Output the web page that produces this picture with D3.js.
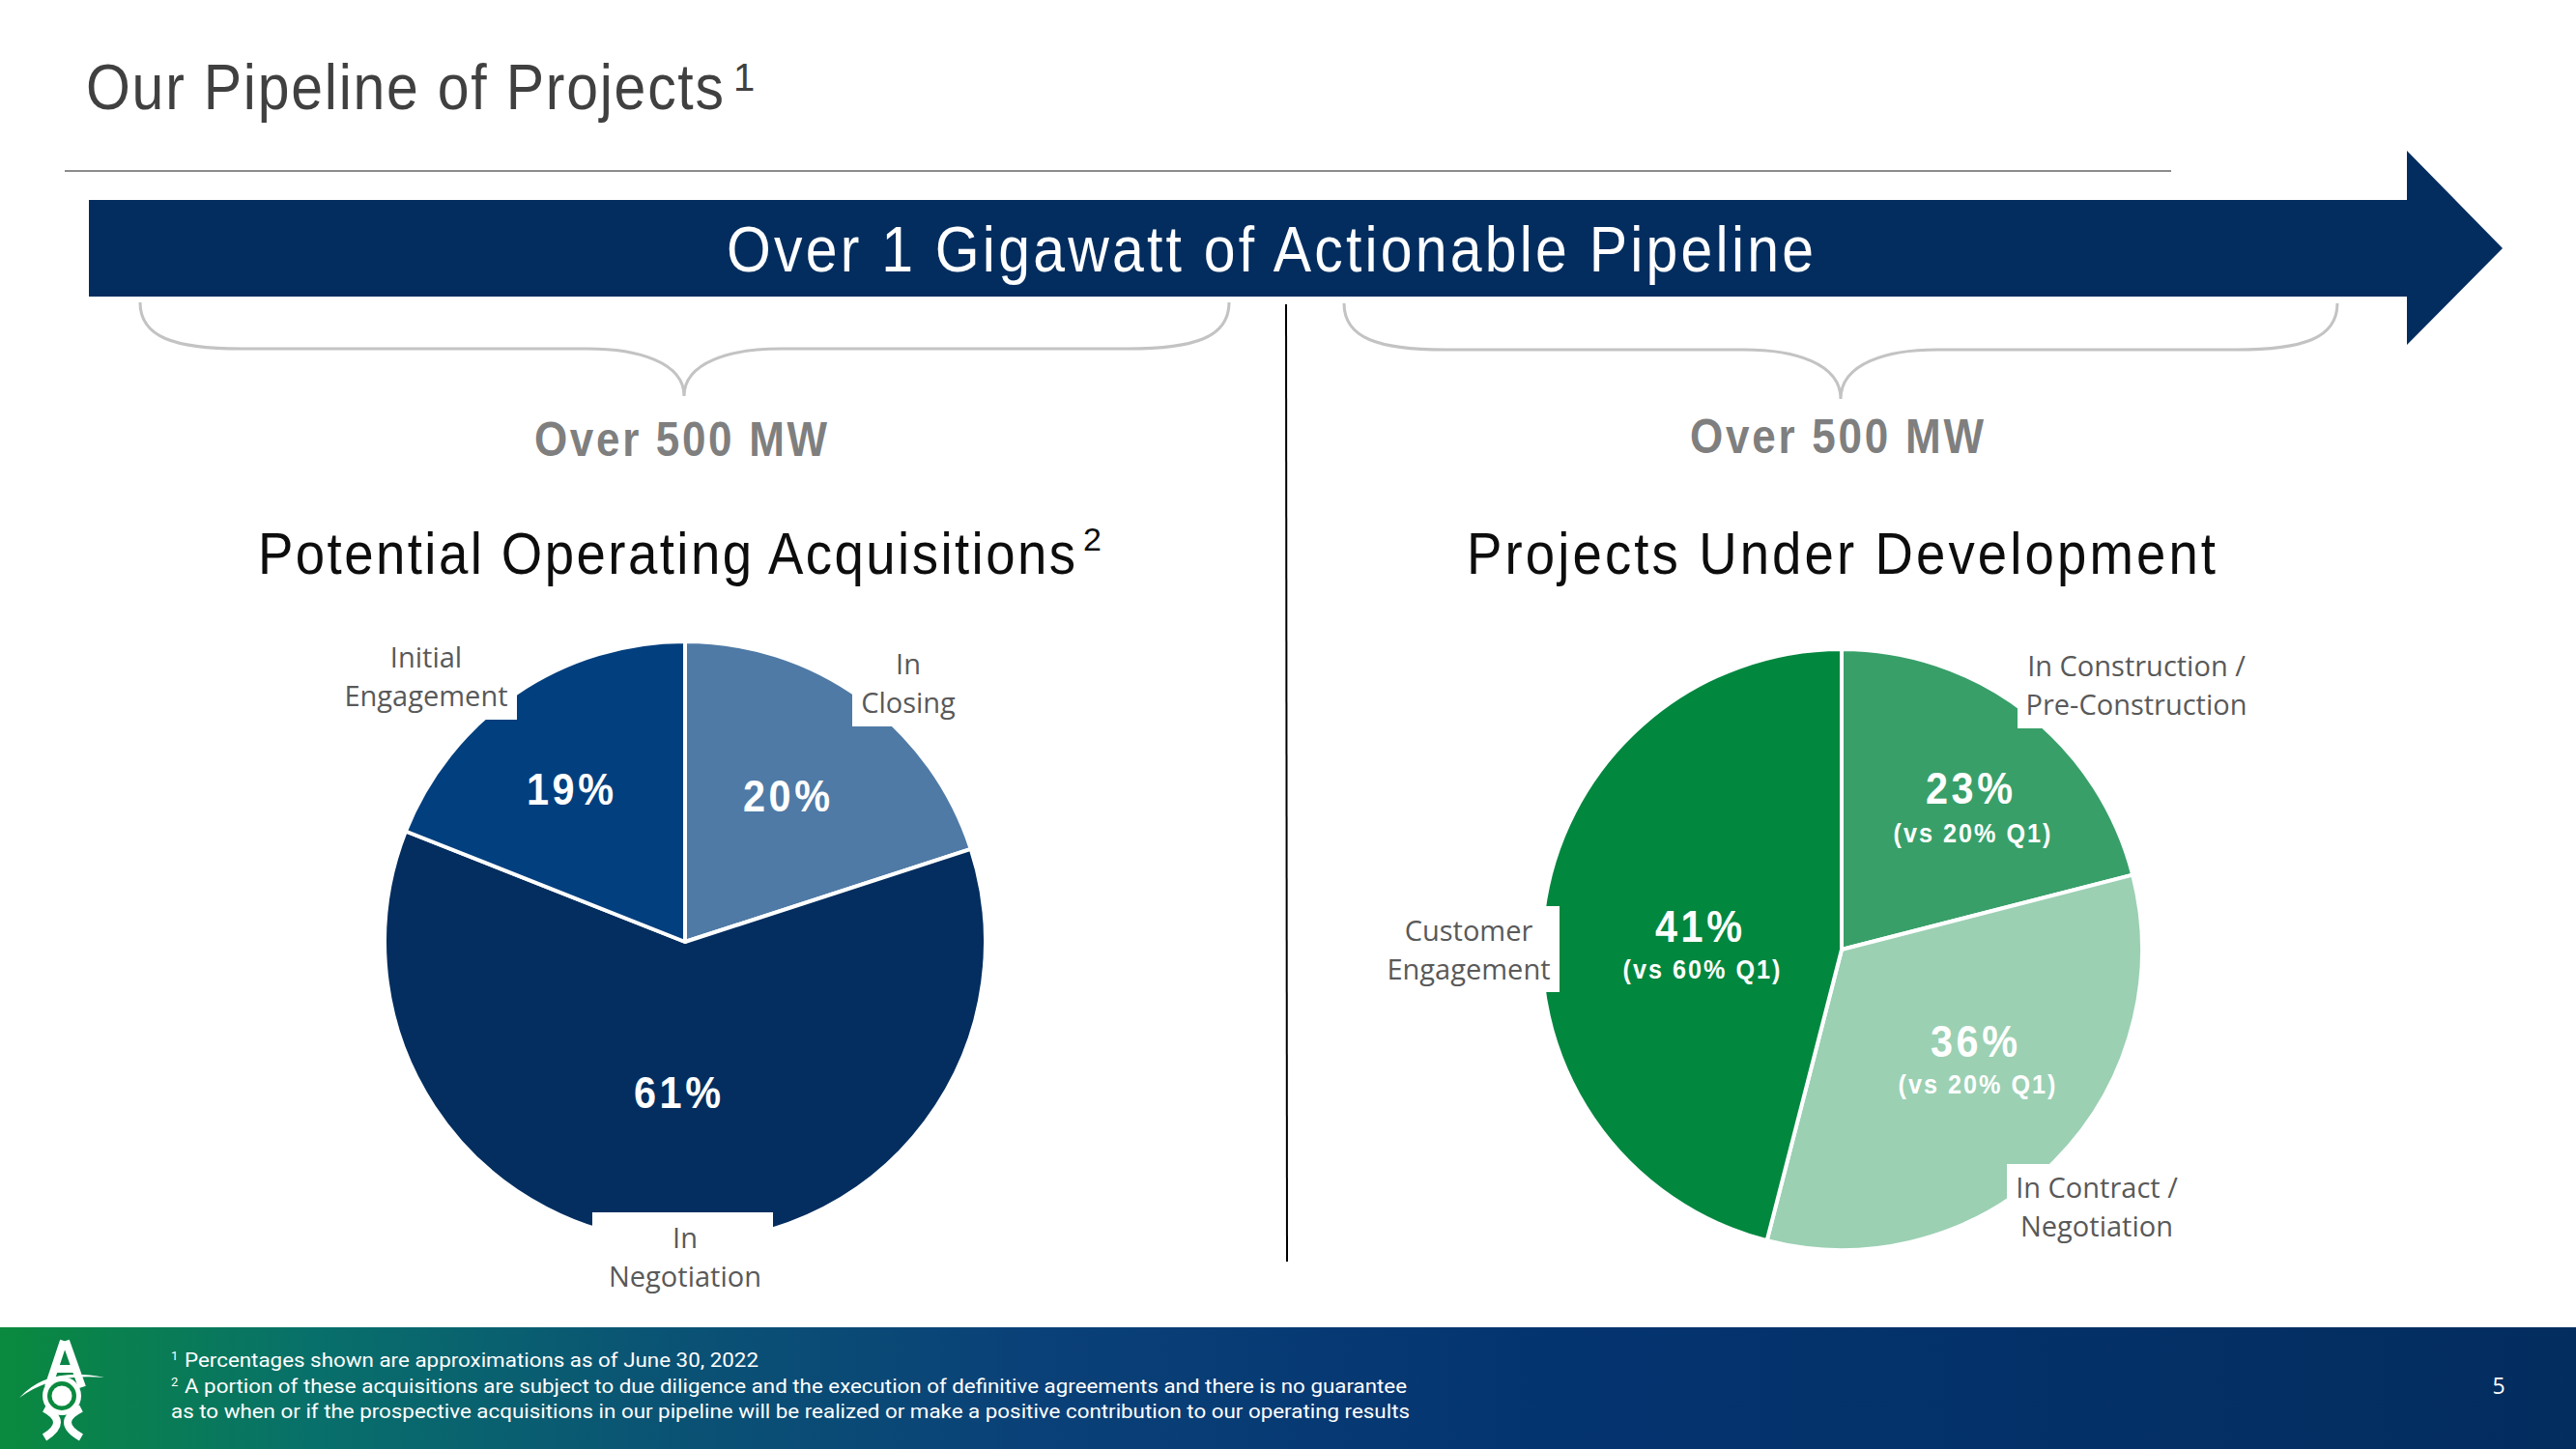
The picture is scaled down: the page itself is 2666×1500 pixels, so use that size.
<!DOCTYPE html>
<html>
<head>
<meta charset="utf-8">
<script src="https://cdn.jsdelivr.net/npm/d3@7"></script>
<style>
  html, body { margin: 0; padding: 0; background: #ffffff; }
  svg { display: block; }
</style>
</head>
<body>
<div id="chart"></div>
<script>
// ---------------- DATA ----------------
const pageTitle = "Our Pipeline of Projects";
const pageTitleNote = "1";
const bannerText = "Over 1 Gigawatt of Actionable Pipeline";
const groupTotals = ["Over 500 MW", "Over 500 MW"];
const chartTitles = ["Potential Operating Acquisitions", "Projects Under Development"];
const chartTitleNotes = ["2", ""];

// Left pie: Potential Operating Acquisitions
const leftCategories = ["In Closing", "In Negotiation", "Initial Engagement"];
const leftValues = [20, 61, 19];
const leftLabelLines = [["In", "Closing"], ["In", "Negotiation"], ["Initial", "Engagement"]];

// Right pie: Projects Under Development (slice sizes as drawn; labels as printed)
const rightCategories = ["In Construction / Pre-Construction", "In Contract / Negotiation", "Customer Engagement"];
const rightSliceValues = [21, 33, 46];
const rightPctLabels = ["23%", "36%", "41%"];
const rightPriorLabels = ["(vs 20% Q1)", "(vs 20% Q1)", "(vs 60% Q1)"];
const rightLabelLines = [["In Construction /", "Pre-Construction"], ["In Contract /", "Negotiation"], ["Customer", "Engagement"]];

const footnotes = [
  {mark: "1", text: "Percentages shown are approximations as of June 30, 2022"},
  {mark: "2", text: "A portion of these acquisitions are subject to due diligence and the execution of definitive agreements and there is no guarantee"},
  {mark: "",  text: "as to when or if the prospective acquisitions in our pipeline will be realized or make a positive contribution to our operating results"}
];
const pageNumber = "5";

// ---------------- STYLE / LAYOUT ----------------
const W = 2666, H = 1500;
const NARROW = "'Liberation Sans Narrow','Arial Narrow','Liberation Sans',Arial,sans-serif";
const LABEL_FONT = "'Open Sans','Noto Sans',sans-serif";
const NAVY = "#032d5f";
const leftColors = ["#4f7aa6", "#032e5f", "#023f7e"];
const rightColors = ["#389f69", "#9bd0b3", "#02873f"];
const SX = 0.88; // horizontal glyph condensing to mimic a narrow face

const svg = d3.select("#chart").append("svg")
  .attr("width", W).attr("height", H)
  .attr("viewBox", `0 0 ${W} ${H}`);

svg.append("rect").attr("width", W).attr("height", H).attr("fill", "#ffffff");

// condensed, letter-spaced text helper
function condText(o) {
  const sx = o.sx || SX;
  const t = svg.append("text")
    .attr("transform", `translate(${o.x},${o.y}) scale(${sx},1)`)
    .attr("x", 0).attr("y", 0)
    .attr("text-anchor", o.anchor || "start")
    .attr("font-family", NARROW)
    .attr("font-weight", o.bold ? "bold" : "normal")
    .attr("font-size", o.size)
    .attr("fill", o.fill)
    .text(o.text);
  if (o.w) t.attr("textLength", o.w / sx).attr("lengthAdjust", "spacing");
  return t;
}

// ---- Page title ----
condText({x: 89, y: 113, w: 660, size: 67, fill: "#404040", text: pageTitle});
svg.append("text")
  .attr("x", 759).attr("y", 94)
  .attr("font-family", NARROW).attr("font-size", 40).attr("fill", "#404040")
  .text(pageTitleNote);

// rule
svg.append("line")
  .attr("x1", 67).attr("x2", 2247).attr("y1", 177).attr("y2", 177)
  .attr("stroke", "#8c8c8c").attr("stroke-width", 2);

// ---- Banner arrow ----
const arrow = d3.path();
arrow.moveTo(92, 207);
arrow.lineTo(2491, 207);
arrow.lineTo(2491, 156);
arrow.lineTo(2590, 257);
arrow.lineTo(2491, 357);
arrow.lineTo(2491, 307);
arrow.lineTo(92, 307);
arrow.closePath();
svg.append("path").attr("d", arrow.toString()).attr("fill", NAVY);

condText({x: 752, y: 281, w: 1125, size: 67, fill: "#ffffff", text: bannerText});

// ---- Braces ----
function brace(xL, xR, xm, y0, y1, y2) {
  const p = d3.path();
  p.moveTo(xL, y0);
  p.bezierCurveTo(xL, y1 - 12, xL + 35, y1, xL + 105, y1);
  p.lineTo(xm - 100, y1);
  p.bezierCurveTo(xm - 48, y1, xm, y1 + 14, xm, y2);
  p.moveTo(xm, y2);
  p.bezierCurveTo(xm, y1 + 14, xm + 48, y1, xm + 100, y1);
  p.lineTo(xR - 105, y1);
  p.bezierCurveTo(xR - 35, y1, xR, y1 - 12, xR, y0);
  return p.toString();
}
const braceSpecs = [
  {xL: 145, xR: 1272, xm: 708, y0: 313, y1: 361, y2: 410},
  {xL: 1391, xR: 2419, xm: 1905, y0: 314, y1: 362, y2: 413}
];
svg.selectAll("path.brace").data(braceSpecs).enter().append("path")
  .attr("class", "brace")
  .attr("d", d => brace(d.xL, d.xR, d.xm, d.y0, d.y1, d.y2))
  .attr("fill", "none").attr("stroke", "#c3c3c3").attr("stroke-width", 3);

// ---- Over 500 MW ----
const totalPos = [{x: 553, y: 472, w: 303}, {x: 1749, y: 469, w: 304}];
groupTotals.forEach((t, i) => condText({x: totalPos[i].x, y: totalPos[i].y, w: totalPos[i].w,
  size: 50, bold: true, fill: "#7f7f7f", text: t}));

// vertical divider
svg.append("line")
  .attr("x1", 1331).attr("x2", 1332).attr("y1", 315).attr("y2", 1306)
  .attr("stroke", "#000000").attr("stroke-width", 2);

// ---- Chart titles ----
const titlePos = [{x: 267, y: 594, w: 846, nx: 1121, ny: 570}, {x: 1518, y: 594, w: 775}];
chartTitles.forEach((t, i) => {
  condText({x: titlePos[i].x, y: titlePos[i].y, w: titlePos[i].w, size: 62, fill: "#0d0d0d", text: t});
  if (chartTitleNotes[i]) {
    svg.append("text")
      .attr("x", titlePos[i].nx).attr("y", titlePos[i].ny)
      .attr("font-family", NARROW).attr("font-size", 34).attr("fill", "#0d0d0d")
      .text(chartTitleNotes[i]);
  }
});

// ---- Pies ----
const R = 311;
const pie = d3.pie().sort(null).value(d => d).startAngle(0).endAngle(2 * Math.PI);
const arc = d3.arc().innerRadius(0).outerRadius(R);

function drawPie(cx, cy, values, colors) {
  const g = svg.append("g").attr("transform", `translate(${cx},${cy})`);
  g.selectAll("path").data(pie(values)).enter().append("path")
    .attr("d", arc)
    .attr("fill", (d, i) => colors[i])
    .attr("stroke", "#ffffff").attr("stroke-width", 4).attr("stroke-linejoin", "round");
  return g;
}
drawPie(709, 975, leftValues, leftColors);
drawPie(1906, 983, rightSliceValues, rightColors);

// white label boxes overlapping pie edges
const labelBoxes = [
  {x: 330, y: 640, w: 205, h: 105},   // Initial Engagement
  {x: 882, y: 640, w: 130, h: 112},   // In Closing
  {x: 613, y: 1255, w: 187, h: 95},   // In Negotiation
  {x: 2088, y: 650, w: 250, h: 104},  // In Construction
  {x: 1420, y: 938, w: 194, h: 89},   // Customer Engagement
  {x: 2077, y: 1205, w: 200, h: 100}  // In Contract
];
svg.selectAll("rect.lbox").data(labelBoxes).enter().append("rect")
  .attr("class", "lbox")
  .attr("x", d => d.x).attr("y", d => d.y).attr("width", d => d.w).attr("height", d => d.h)
  .attr("fill", "#ffffff");

// category labels
function catLabel(lines, cx, y0, dy) {
  const t = svg.append("text")
    .attr("font-family", LABEL_FONT).attr("font-size", 29).attr("fill", "#595959")
    .attr("text-anchor", "middle");
  lines.forEach((ln, k) => {
    t.append("tspan").attr("x", cx).attr("y", y0 + k * dy).text(ln);
  });
}
const leftLabelPos = [{x: 940, y: 698}, {x: 709, y: 1292}, {x: 441, y: 691}];
leftLabelLines.forEach((lines, i) => catLabel(lines, leftLabelPos[i].x, leftLabelPos[i].y, 40));
const rightLabelPos = [{x: 2211, y: 700}, {x: 2170, y: 1240}, {x: 1520, y: 974}];
rightLabelLines.forEach((lines, i) => catLabel(lines, rightLabelPos[i].x, rightLabelPos[i].y, 40));

// percent labels
function pctLabel(txt, cx, y, w, size) {
  condText({x: cx, y: y, w: w, size: size, bold: true, fill: "#ffffff", anchor: "middle", sx: 0.9, text: txt});
}
const leftPctPos = [{x: 814, y: 840}, {x: 701, y: 1147}, {x: 590, y: 833}];
leftValues.forEach((v, i) => pctLabel(v + "%", leftPctPos[i].x, leftPctPos[i].y, 90, 46));

const rightPctPos = [{x: 2038, y: 832, py: 872}, {x: 2043, y: 1094, py: 1132}, {x: 1758, y: 975, py: 1013}];
rightPctLabels.forEach((p, i) => {
  pctLabel(p, rightPctPos[i].x, rightPctPos[i].y, 90, 46);
  pctLabel(rightPriorLabels[i], rightPctPos[i].x + 3, rightPctPos[i].py, 163, 28);
});

// ---- Footer ----
const defs = svg.append("defs");
const grad = defs.append("linearGradient").attr("id", "footGrad")
  .attr("x1", "0%").attr("x2", "100%").attr("y1", "0%").attr("y2", "0%");
[["0%", "#0a8a3e"], ["12%", "#08706a"], ["25%", "#0a5474"], ["40%", "#0a4178"], ["60%", "#043470"], ["100%", "#032d5f"]]
  .forEach(s => grad.append("stop").attr("offset", s[0]).attr("stop-color", s[1]));
svg.append("rect").attr("x", 0).attr("y", 1374).attr("width", W).attr("height", H - 1374)
  .attr("fill", "url(#footGrad)");

// logo
const logo = svg.append("g").attr("fill", "#ffffff").attr("stroke", "#ffffff");
logo.append("path").attr("d", "M66,1388 L50,1436 M68,1388 L85,1436 M57,1417 L77,1417")
  .attr("fill", "none").attr("stroke-width", 8).attr("stroke-linecap", "butt");
logo.append("path").attr("d", "M20,1447 Q50,1414 108,1426 Q55,1421 20,1447 Z").attr("stroke", "none");
logo.append("circle").attr("cx", 64).attr("cy", 1445).attr("r", 20).attr("stroke", "none");
logo.append("circle").attr("cx", 64).attr("cy", 1445).attr("r", 15).attr("fill", "#0a8a3e").attr("stroke", "none");
logo.append("circle").attr("cx", 64).attr("cy", 1445).attr("r", 10.5).attr("stroke", "none");
logo.append("path").attr("d", "M46,1458 Q72,1472 46,1488 M84,1458 Q56,1472 84,1488")
  .attr("fill", "none").attr("stroke-width", 8);

// footnotes
const footY = [1415, 1442, 1468];
const footSpec = [{x: 191, w: 594}, {x: 191, w: 1265}, {x: 177, w: 1282}];
footnotes.forEach((f, i) => {
  if (f.mark) {
    svg.append("text").attr("x", 177).attr("y", footY[i] - 7)
      .attr("font-family", "Roboto, sans-serif").attr("font-size", 13).attr("fill", "#ffffff")
      .text(f.mark);
  }
  svg.append("text").attr("x", footSpec[i].x).attr("y", footY[i])
    .attr("font-family", "Roboto, sans-serif").attr("font-size", 20).attr("fill", "#ffffff")
    .attr("textLength", footSpec[i].w).attr("lengthAdjust", "spacingAndGlyphs")
    .text(f.text);
});

svg.append("text").attr("x", 2586).attr("y", 1443).attr("text-anchor", "middle")
  .attr("font-family", LABEL_FONT).attr("font-size", 23).attr("fill", "#ffffff")
  .text(pageNumber);
</script>
</body>
</html>
